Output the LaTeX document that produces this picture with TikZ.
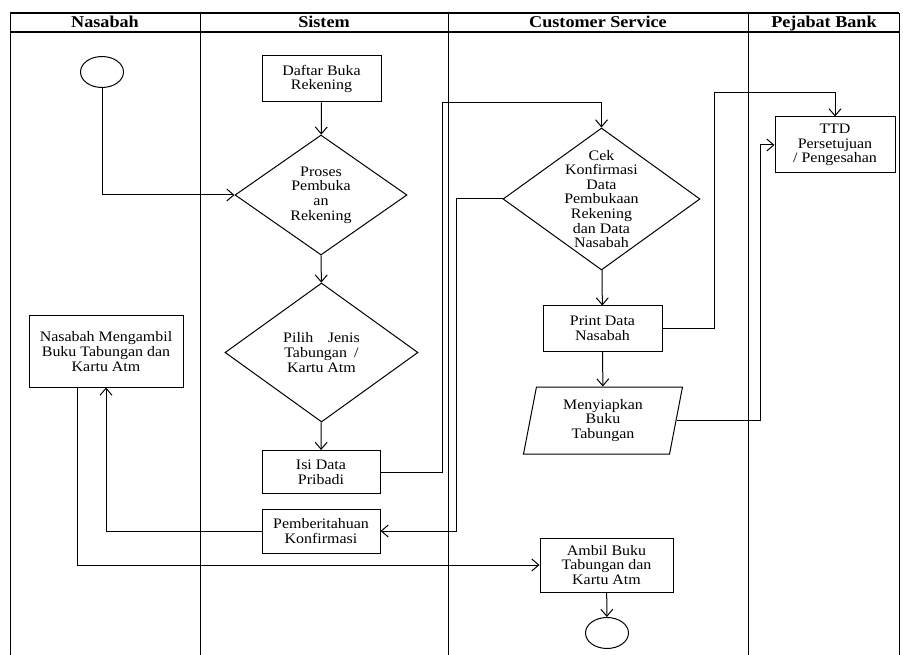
\documentclass[tikz,border=0pt]{standalone}
\usepackage{fontspec}
\setmainfont{Liberation Serif}[FakeStretch = 1.1]
\usetikzlibrary{shapes.geometric, arrows.meta}
\begin{document}
\begin{tikzpicture}[x = 1pt, y = -1pt, line width = 1pt,
    > = {Straight Barb[length = 7pt, width = 12pt]},
    txt/.style = {align = center, font = \fontsize{14.5}{14.6}\selectfont},
    box/.style = {draw, rectangle, inner sep = 0pt, txt},
    decision/.style = {draw, diamond, inner sep = 0pt},
    terminal/.style = {draw, ellipse, minimum width = 43, minimum height = 31},
    lane/.style = {anchor = base, font = \fontsize{16.5}{16.5}\selectfont\bfseries}]
      \useasboundingbox (0, 0) rectangle (903, 655);
      \draw (10, 655) -- (10, 13);
      \draw (899, 13) -- (899, 655);
      \draw [line width = 1.5pt] (10, 13) -- (899, 13);
      \draw [line width = 1.5pt] (10, 32) -- (899, 32);
      \draw (200, 13) -- (200, 655);
      \draw (448, 13) -- (448, 655);
      \draw (748, 13) -- (748, 655);
      \node [lane] (nasabah) at (105, 28) {Nasabah};
      \node [lane] (sistem) at (324, 28) {Sistem};
      \node [lane] (cs) at (598, 28) {Customer Service};
      \node [lane] (pejabat) at (824, 28) {Pejabat Bank};
      \node [terminal] (start) at (102, 72) {};
      \node [box, minimum width = 119, minimum height = 46] (daftar) at (321.5, 79) {Daftar Buka\\Rekening};
      \node [decision, minimum width = 172, minimum height = 120,
        label = {[txt]center:Proses\\Pembuka\\an\\Rekening}] (proses) at (321, 195) {};
      \node [decision, minimum width = 193, minimum height = 139,
        label = {[txt]center:Pilih\quad Jenis\\Tabungan\enspace/\\Kartu Atm}] (pilih) at (321.5, 352.5) {};
      \node [box, minimum width = 118, minimum height = 43] (isi) at (321, 472) {Isi Data\\Pribadi};
      \node [box, minimum width = 118, minimum height = 44] (beritahu) at (321, 531) {Pemberitahuan\\Konfirmasi};
      \node [box, minimum width = 154, minimum height = 71] (mengambil) at (106, 351.5) {Nasabah Mengambil\\Buku Tabungan dan\\Kartu Atm};
      \node [decision, minimum width = 197, minimum height = 142,
        label = {[txt]center:Cek\\Konfirmasi\\Data\\Pembukaan\\Rekening\\dan Data\\Nasabah}] (cek) at (601.5, 199) {};
      \node [box, minimum width = 119, minimum height = 45] (print) at (602.5, 328.5) {Print Data\\Nasabah};
      \node [draw, trapezium, trapezium left angle = 73, trapezium right angle = 107,
        trapezium stretches body, minimum width = 159, minimum height = 67, inner sep = 0pt, txt] (siapkan) at (603, 420.5) {Menyiapkan\\Buku\\Tabungan};
      \node [box, minimum width = 133, minimum height = 54] (ambil) at (606.5, 565) {Ambil Buku\\Tabungan dan\\Kartu Atm};
      \node [terminal] (stop) at (607, 633) {};
      \node [box, minimum width = 120, minimum height = 56] (ttd) at (835, 145) {TTD\\Persetujuan\\/ Pengesahan};
      \draw [->] (start.south) |- (proses.west);
      \draw [->] (daftar) -- (proses);
      \draw [->] (proses) -- (pilih);
      \draw [->] (pilih) -- (isi);
      \draw [->] (isi.east) -- ++(62, 0) |- ([yshift = 25pt] cek.north) -- (cek.north);
      \draw [->] (cek.west) -- ++(-46, 0) |- (beritahu.east);
      \draw [->] (cek) -- (print);
      \draw [->] (print.east) -- ++(52, 0) |- ([yshift = 24pt] ttd.north) -- (ttd.north);
      \draw [->] (print) -- (siapkan);
      \draw [->] (siapkan.east) -- ++(84, 0) |- (ttd.west);
      \draw [->] (beritahu.west) -| (mengambil.south);
      \draw [->] ([xshift = -29pt] mengambil.south) |- (ambil.west);
      \draw [->] (ambil) -- (stop);
    \end{tikzpicture}
\end{document}
